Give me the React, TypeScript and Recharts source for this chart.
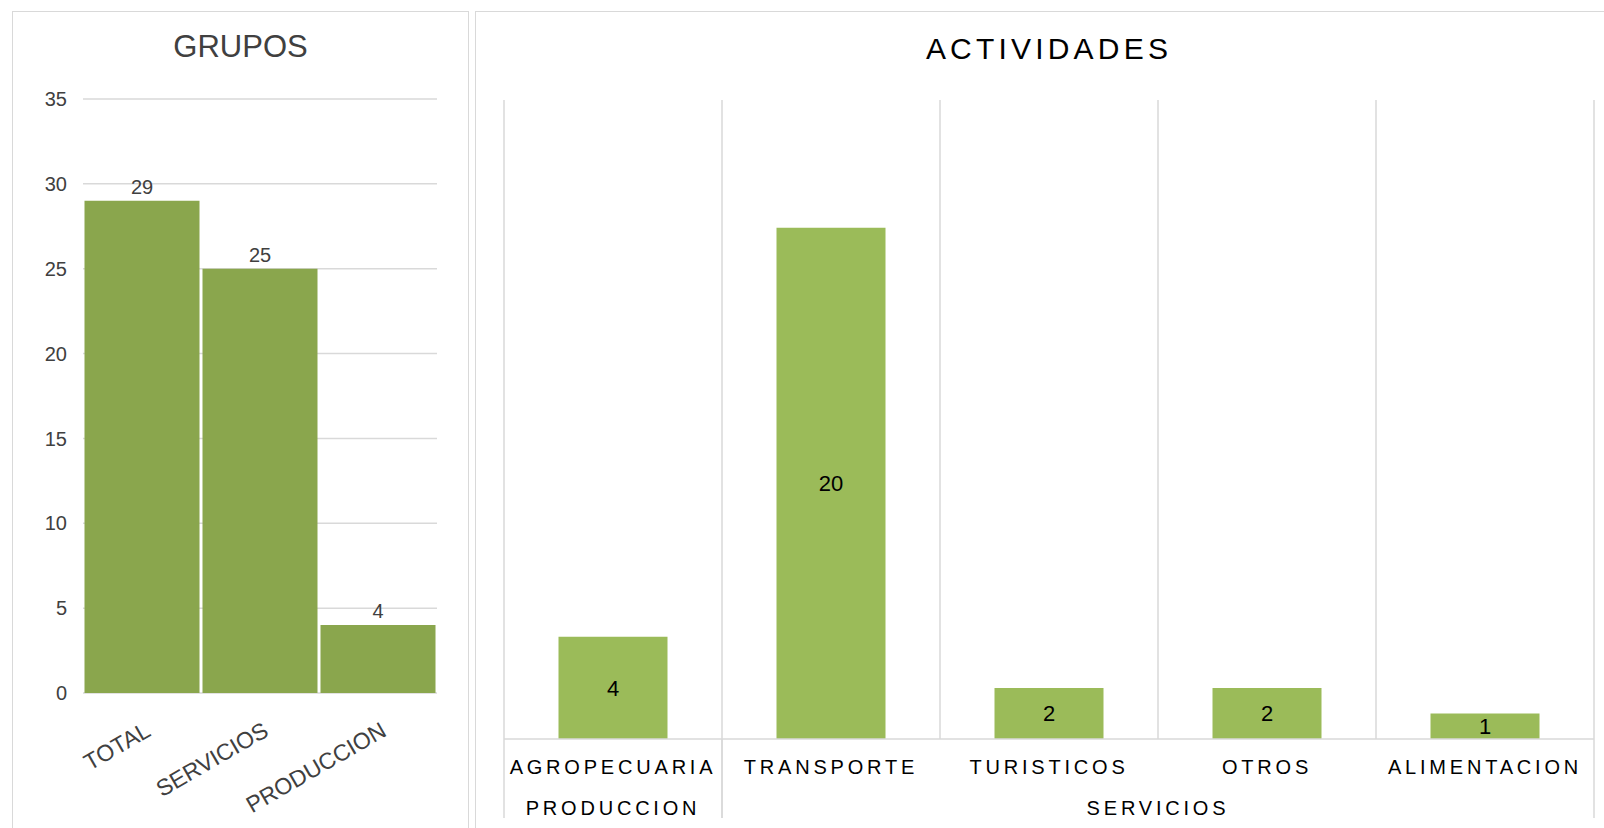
import React from 'react';
import { BarChart, Bar, XAxis, YAxis, CartesianGrid, LabelList } from 'recharts';

// ---- data ----
const groupCategories = ['TOTAL', 'SERVICIOS', 'PRODUCCION'];
const groupValues = [29, 25, 4];
const groupTicks = [0, 5, 10, 15, 20, 25, 30, 35];

const activityCategories = ['AGROPECUARIA', 'TRANSPORTE', 'TURISTICOS', 'OTROS', 'ALIMENTACION'];
const activityGroups = ['PRODUCCION', 'SERVICIOS', 'SERVICIOS', 'SERVICIOS', 'SERVICIOS'];
const activityValues = [4, 20, 2, 2, 1];

const groupData = groupCategories.map((name, i) => ({ name, value: groupValues[i] }));
const activityData = activityCategories.map((name, i) => ({
  name,
  group: activityGroups[i],
  value: activityValues[i],
}));

const FONT = "'Liberation Sans', Arial, Helvetica, sans-serif";
const GRID = '#d9d9d9';

// right chart layout
const R_LEFT = 475;
const R_W = 1129;
const R_MARGIN = { top: 100, right: 10, left: 29, bottom: 9 };
const R_BAND = (R_W - R_MARGIN.left - R_MARGIN.right) / activityCategories.length;

const RotatedTick = (props: any) => {
  const { x, y, payload } = props;
  const ax = x + 10;
  const ay = y + 42;
  return (
    <text
      x={ax}
      y={ay}
      transform={`rotate(-30 ${ax} ${ay})`}
      textAnchor="end"
      fontSize={23}
      fill="#404040"
      fontFamily={FONT}
    >
      {payload.value}
    </text>
  );
};

const CategoryTick = (props: any) => {
  const { x, y, payload } = props;
  return (
    <text
      x={x}
      y={y + 28}
      dy="0.355em"
      textAnchor="middle"
      fontSize={20}
      fill="#000"
      fontFamily={FONT}
      letterSpacing={3.8}
    >
      {payload.value}
    </text>
  );
};

const GroupTick = (props: any) => {
  const { x, y, index } = props;
  const n = activityGroups.length;
  const g = activityGroups[index];
  const isFirst = index === 0 || activityGroups[index - 1] !== g;
  const isLast = index === n - 1 || activityGroups[index + 1] !== g;
  let count = 0;
  if (isFirst) {
    for (let j = index; j < n && activityGroups[j] === g; j++) count++;
  }
  const half = R_BAND / 2;
  return (
    <g>
      {isFirst && (
        <line x1={x - half} x2={x - half} y1={y - 40} y2={y + 39} stroke={GRID} strokeWidth={1.5} />
      )}
      {isLast && (
        <line x1={x + half} x2={x + half} y1={y - 40} y2={y + 39} stroke={GRID} strokeWidth={1.5} />
      )}
      {isFirst && (
        <text
          x={x + ((count - 1) * R_BAND) / 2}
          y={y + 29}
          dy="0.355em"
          textAnchor="middle"
          fontSize={20}
          fill="#000"
          fontFamily={FONT}
          letterSpacing={3.8}
        >
          {g}
        </text>
      )}
    </g>
  );
};

const boundaryGenerator = (p: any) => {
  const n = activityCategories.length;
  const off = p && p.offset ? p.offset : null;
  const left = off ? off.left : R_MARGIN.left;
  const width = off ? off.width : R_W - R_MARGIN.left - R_MARGIN.right;
  const out: number[] = [];
  for (let i = 0; i <= n; i++) out.push(left + (i * width) / n);
  return out;
};

export default function App() {
  return (
    <div
      style={{
        position: 'absolute',
        left: 0,
        top: 0,
        width: 1604,
        height: 828,
        overflow: 'hidden',
        background: '#fff',
        fontFamily: FONT,
      }}
    >
      {/* panel borders */}
      <div
        style={{
          position: 'absolute',
          left: 12,
          top: 11,
          width: 457,
          height: 840,
          border: `1px solid ${GRID}`,
          boxSizing: 'border-box',
        }}
      />
      <div
        style={{
          position: 'absolute',
          left: 475,
          top: 11,
          width: 1160,
          height: 840,
          border: `1px solid ${GRID}`,
          boxSizing: 'border-box',
        }}
      />

      {/* titles */}
      <div
        style={{
          position: 'absolute',
          left: 12,
          width: 457,
          top: 31,
          height: 32,
          lineHeight: '32px',
          fontSize: 31,
          color: '#404040',
          textAlign: 'center',
        }}
      >
        GRUPOS
      </div>
      <div
        style={{
          position: 'absolute',
          left: 504,
          width: 1090,
          top: 34,
          height: 30,
          lineHeight: '30px',
          fontSize: 30,
          letterSpacing: 4.2,
          color: '#000',
          textAlign: 'center',
        }}
      >
        ACTIVIDADES
      </div>

      {/* left chart */}
      <div style={{ position: 'absolute', left: 0, top: 0 }}>
        <BarChart
          width={469}
          height={828}
          data={groupData}
          margin={{ top: 99, right: 32, left: 23, bottom: 55 }}
          barCategoryGap={1.5}
        >
          <CartesianGrid vertical={false} stroke={GRID} strokeWidth={1.5} />
          <XAxis
            dataKey="name"
            axisLine={false}
            tickLine={false}
            tickSize={0}
            tickMargin={0}
            height={80}
            interval={0}
            tick={<RotatedTick />}
          />
          <YAxis
            domain={[0, 35]}
            ticks={groupTicks}
            axisLine={false}
            tickLine={false}
            tickSize={0}
            tickMargin={16}
            width={60}
            tick={{ fontSize: 20, fill: '#404040', fontFamily: FONT }}
          />
          <Bar dataKey="value" fill="#8aa64d" isAnimationActive={false}>
            <LabelList
              dataKey="value"
              position="top"
              offset={7}
              fontSize={20}
              fill="#404040"
              fontFamily={FONT}
            />
          </Bar>
        </BarChart>
      </div>

      {/* right chart */}
      <div style={{ position: 'absolute', left: R_LEFT, top: 0 }}>
        <BarChart
          width={R_W}
          height={828}
          data={activityData}
          margin={R_MARGIN}
          barCategoryGap="25%"
        >
          <CartesianGrid
            horizontal={false}
            stroke={GRID}
            strokeWidth={1.5}
            verticalCoordinatesGenerator={boundaryGenerator}
          />
          <XAxis
            dataKey="name"
            axisLine={{ stroke: GRID, strokeWidth: 1.5 }}
            tickLine={false}
            tickSize={0}
            tickMargin={0}
            height={40}
            interval={0}
            tick={<CategoryTick />}
          />
          <XAxis
            xAxisId="grp"
            dataKey="name"
            axisLine={false}
            tickLine={false}
            tickSize={0}
            tickMargin={0}
            height={40}
            interval={0}
            tick={<GroupTick />}
          />
          <YAxis hide domain={[0, 25]} />
          <Bar dataKey="value" fill="#9bbb59" isAnimationActive={false}>
            <LabelList
              dataKey="value"
              position="center"
              fontSize={22}
              fill="#000"
              fontFamily={FONT}
            />
          </Bar>
        </BarChart>
      </div>
    </div>
  );
}
